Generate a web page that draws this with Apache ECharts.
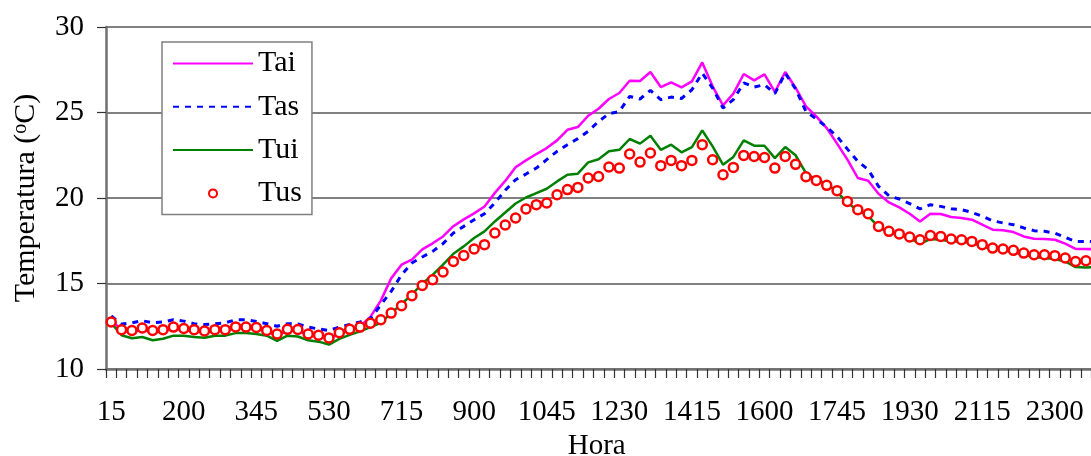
<!DOCTYPE html>
<html>
<head>
<meta charset="utf-8">
<script src="https://cdn.jsdelivr.net/npm/echarts@6/dist/echarts.min.js"></script>
<style>
html,body{margin:0;padding:0;background:#fff;}
#chart{width:1091px;height:456px;}
</style>
</head>
<body>
<div id="chart"></div>
<script>
const hours = ['15','30','45','100','115','130','145','200','215','230','245','300','315','330','345','400','415','430','445','500','515','530','545','600','615','630','645','700','715','730','745','800','815','830','845','900','915','930','945','1000','1015','1030','1045','1100','1115','1130','1145','1200','1215','1230','1245','1300','1315','1330','1345','1400','1415','1430','1445','1500','1515','1530','1545','1600','1615','1630','1645','1700','1715','1730','1745','1800','1815','1830','1845','1900','1915','1930','1945','2000','2015','2030','2045','2100','2115','2130','2145','2200','2215','2230','2245','2300','2315','2330','2345','2400'];

const tai = [12.9,12.25,12.15,12.3,12.15,12.2,12.35,12.3,12.2,12.15,
12.25,12.25,12.4,12.4,12.35,12.2,11.95,12.25,12.25,11.95,
11.9,11.75,12.05,12.3,12.5,13.05,14.0,15.3,16.1,16.4,
17.0,17.35,17.75,18.35,18.75,19.1,19.5,20.3,21.0,21.8,
22.2,22.57,22.92,23.37,23.99,24.15,24.81,25.22,25.79,26.14,
26.86,26.84,27.37,26.49,26.76,26.47,26.82,27.93,26.53,25.42,
26.1,27.25,26.88,27.23,26.2,27.37,26.45,25.36,24.77,24.09,
23.18,22.24,21.17,21.01,20.25,19.74,19.45,19.08,18.63,19.08,
19.06,18.89,18.83,18.73,18.44,18.15,18.11,18.01,17.75,17.62,
17.6,17.56,17.33,17.02,17.02,17.0];

const tas = [13.1,12.63,12.7,12.82,12.7,12.75,12.88,12.8,12.65,12.6,
12.65,12.7,12.88,12.88,12.78,12.65,12.5,12.65,12.63,12.45,
12.34,12.25,12.45,12.6,12.75,12.95,13.75,14.54,15.51,16.2,
16.55,16.88,17.33,17.95,18.34,18.73,19.08,19.71,20.45,21.07,
21.4,21.75,22.24,22.73,23.12,23.47,23.9,24.48,24.93,25.06,
25.94,25.79,26.29,25.75,25.9,25.82,26.33,27.3,26.43,25.26,
25.75,26.73,26.49,26.63,26.1,27.3,26.37,25.06,24.62,24.15,
23.6,22.86,22.14,21.66,20.68,20.13,19.94,19.67,19.36,19.61,
19.51,19.37,19.32,19.16,18.93,18.67,18.54,18.44,18.25,18.09,
18.05,17.95,17.7,17.46,17.46,17.45];

const tui = [12.7,11.97,11.8,11.87,11.68,11.77,11.95,11.95,11.87,11.83,
11.95,11.95,12.1,12.1,12.05,11.95,11.65,11.95,11.9,11.68,
11.6,11.43,11.76,12.0,12.2,12.45,12.7,13.27,13.8,14.35,
15.0,15.5,16.1,16.74,17.17,17.66,18.05,18.63,19.15,19.68,
20.03,20.29,20.54,20.97,21.36,21.42,22.08,22.27,22.73,22.82,
23.45,23.18,23.64,22.82,23.12,22.67,22.98,23.95,23.02,21.95,
22.4,23.37,23.06,23.06,22.33,22.98,22.5,21.45,21.07,20.84,
20.35,19.74,19.26,18.96,18.3,17.99,17.84,17.64,17.33,17.6,
17.56,17.46,17.46,17.37,17.17,16.98,16.94,16.84,16.68,16.55,
16.49,16.43,16.29,15.96,15.94,15.95];

const tus = [12.75,12.3,12.25,12.4,12.25,12.3,12.45,12.37,12.3,12.22,
12.3,12.3,12.46,12.45,12.43,12.25,12.05,12.32,12.31,12.05,
11.98,11.82,12.12,12.32,12.45,12.68,12.88,13.27,13.7,14.29,
14.89,15.22,15.67,16.29,16.64,17.02,17.27,17.95,18.42,18.83,
19.36,19.61,19.71,20.19,20.49,20.62,21.17,21.26,21.81,21.75,
22.57,22.1,22.63,21.89,22.2,21.89,22.2,23.12,22.24,21.36,
21.79,22.49,22.43,22.37,21.75,22.43,21.97,21.24,21.03,20.74,
20.43,19.8,19.32,19.08,18.34,18.05,17.9,17.72,17.56,17.81,
17.75,17.6,17.56,17.46,17.27,17.07,17.02,16.94,16.78,16.68,
16.68,16.63,16.49,16.29,16.33,16.3];

const FONT = 'Liberation Serif';
const chart = echarts.init(document.getElementById('chart'));
chart.setOption({
  animation: false,
  backgroundColor: '#fff',
  grid: { left: 106, right: -10.5, top: 27, bottom: 87, containLabel: false, outerBoundsMode: 'none' },
  legend: {
    orient: 'vertical', left: 162, top: 42,
    itemWidth: 80, itemHeight: 10, itemGap: 11.3,
    padding: [5.5, 10, 5, 10],
    borderColor: '#808080', borderWidth: 1.5, backgroundColor: '#fff',
    textStyle: { fontFamily: FONT, fontSize: 30, color: '#000', lineHeight: 32 },
    data: [
      { name: 'Tai', itemStyle: { opacity: 0 } },
      { name: 'Tas', itemStyle: { opacity: 0 } },
      { name: 'Tui', itemStyle: { opacity: 0 } },
      { name: 'Tus' }
    ]
  },
  xAxis: {
    type: 'category', data: hours, boundaryGap: true,
    name: 'Hora', nameLocation: 'middle', nameGap: 62,
    nameTextStyle: { fontFamily: FONT, fontSize: 29, color: '#000', padding: [0, 14, 0, 0] },
    axisLine: { lineStyle: { color: '#707070', width: 2.5 } },
    axisTick: { show: true, interval: 0, length: 9, lineStyle: { color: '#333', width: 1.2 } },
    axisLabel: { interval: 6, margin: 29, fontFamily: FONT, fontSize: 29, color: '#000' },
    splitLine: { show: false }
  },
  yAxis: {
    type: 'value', min: 10, max: 30, interval: 5,
    name: 'Temperatura ({sup|o}C)', nameLocation: 'middle', nameGap: 65, nameRotate: 90,
    nameTextStyle: { fontFamily: FONT, fontSize: 30, color: '#000',
      rich: { sup: { fontFamily: FONT, fontSize: 20, color: '#000', verticalAlign: 'top' } } },
    axisLine: { show: true, lineStyle: { color: '#707070', width: 2.5 } },
    axisTick: { show: true, length: 9, lineStyle: { color: '#333', width: 1.2 } },
    axisLabel: { margin: 22, fontFamily: FONT, fontSize: 29, color: '#000' },
    splitLine: { show: true, lineStyle: { color: '#808080', width: 2 } }
  },
  series: [
    { name: 'Tai', type: 'line', data: tai, symbol: 'none', showSymbol: false,
      lineStyle: { color: '#ff00ff', width: 2.5 }, itemStyle: { color: '#ff00ff' } },
    { name: 'Tas', type: 'line', data: tas, symbol: 'none', showSymbol: false,
      lineStyle: { color: '#0000ff', width: 3, type: [6, 6] }, itemStyle: { color: '#0000ff' } },
    { name: 'Tui', type: 'line', data: tui, symbol: 'none', showSymbol: false,
      lineStyle: { color: '#008000', width: 2.5 }, itemStyle: { color: '#008000' } },
    { name: 'Tus', type: 'line', data: tus, symbol: 'circle', symbolSize: 9,
      showSymbol: true, showAllSymbol: true,
      lineStyle: { width: 0, opacity: 0 },
      itemStyle: { color: '#ffffff', borderColor: '#ff0000', borderWidth: 2.5 } }
  ]
});
</script>
</body>
</html>
